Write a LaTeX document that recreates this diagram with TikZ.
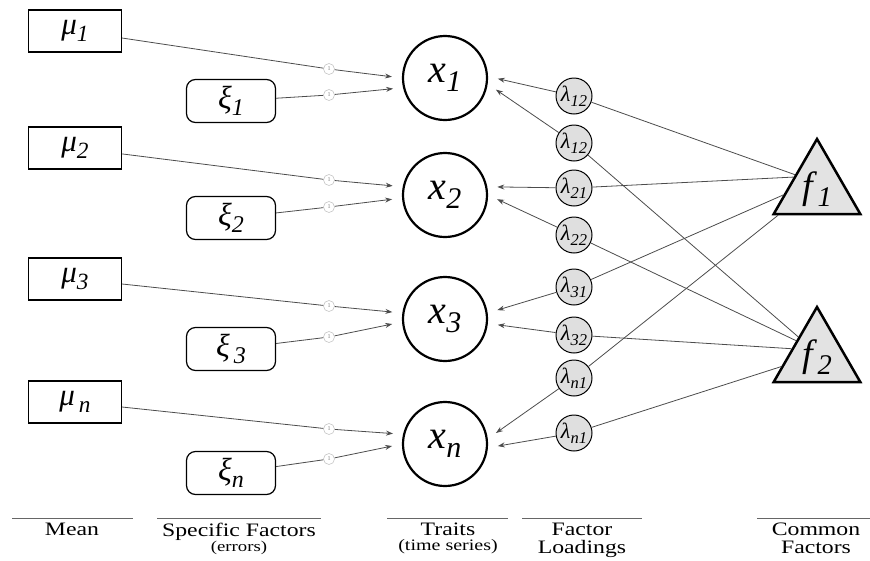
\documentclass[tikz,border=0pt]{standalone}
\usepackage{fontspec}
\setmainfont{Liberation Serif}
\newfontfamily\capfont{Liberation Serif}[FakeStretch=1.25]
\usetikzlibrary{shapes.geometric,arrows.meta}

\newcommand{\varlab}[2]{\itshape #1\raisebox{-.22em}{\scalebox{.75}{#2}}}

\begin{document}
\begin{tikzpicture}[x=1pt,y=-1pt,
  mean/.style={draw, line width=1.2pt, minimum width=93pt, minimum height=42pt, inner sep=0pt, font=\fontsize{31}{31}\selectfont},
  spec/.style={draw, rounded corners=9pt, line width=1.2pt, minimum width=89pt, minimum height=43pt, inner sep=0pt, font=\fontsize{32}{32}\selectfont},
  trait/.style={circle, draw, line width=2.2pt, minimum size=84pt, inner sep=0pt, font=\fontsize{40}{40}\selectfont},
  load/.style={circle, draw, fill=gray!25, line width=1pt, minimum size=36pt, inner sep=0pt, font=\fontsize{22}{22}\selectfont},
  common/.style={regular polygon, regular polygon sides=3, draw, fill=gray!22, line width=2.5pt, minimum size=100pt, inner sep=0pt, font=\fontsize{38}{38}\selectfont},
  one/.style={circle, draw=gray!45, fill=white, line width=0.6pt, minimum size=11pt, inner sep=0pt, font=\fontsize{6}{6}\selectfont, text=gray},
  link/.style={draw=black!70, line width=0.8pt},
  arr/.style={link, -{Stealth[length=7pt,width=5pt]}, shorten >=10pt},
  rule/.style={draw=black!60, line width=0.9pt},
  caption/.style={font=\capfont\fontsize{19}{18}\selectfont, align=center, anchor=north, inner sep=0pt}]
\useasboundingbox (0,0) rectangle (870,560);

% means
\node[mean] (m1) at (75,31) {\varlab{μ}{1}};
\node[mean] (m2) at (75,148) {\varlab{μ}{2}};
\node[mean] (m3) at (75,279) {\varlab{μ}{3}};
\node[mean] (mn) at (75,402) {\varlab{μ}{\,n}};

% specific factors
\node[spec] (e1) at (231,101) {\varlab{ξ}{1}};
\node[spec] (e2) at (231,218) {\varlab{ξ}{2}};
\node[spec] (e3) at (231,349) {\varlab{ξ}{\,3}};
\node[spec] (en) at (231,473) {\varlab{ξ}{n}};

% traits
\node[trait] (x1) at (445,78) {\varlab{x}{1}};
\node[trait] (x2) at (445,195) {\varlab{x}{2}};
\node[trait] (x3) at (445,319) {\varlab{x}{3}};
\node[trait] (xn) at (445,444) {\varlab{x}{n}};

% unit weights
\node[one] (om1) at (329,69) {1};
\node[one] (oe1) at (329,95) {1};
\node[one] (om2) at (329,180) {1};
\node[one] (oe2) at (329,207) {1};
\node[one] (om3) at (329,306) {1};
\node[one] (oe3) at (329,337) {1};
\node[one] (omn) at (329,429) {1};
\node[one] (oen) at (329,459) {1};

\draw[link] (m1) -- (om1); \draw[arr] (om1) -- (x1.180);
\draw[link] (e1) -- (oe1); \draw[arr] (oe1) -- (x1.193);
\draw[link] (m2) -- (om2); \draw[arr] (om2) -- (x2.169);
\draw[link] (e2) -- (oe2); \draw[arr] (oe2) -- (x2.184);
\draw[link] (m3) -- (om3); \draw[arr] (om3) -- (x3.172);
\draw[link] (e3) -- (oe3); \draw[arr] (oe3) -- (x3.184);
\draw[link] (mn) -- (omn); \draw[arr] (omn) -- (xn.167);
\draw[link] (en) -- (oen); \draw[arr] (oen) -- (xn.180);

% factor loadings
\node[load] (l12a) at (574,96) {\varlab{λ}{12}};
\node[load] (l12b) at (574,143) {\varlab{λ}{12}};
\node[load] (l21) at (574,188) {\varlab{λ}{21}};
\node[load] (l22) at (574,235) {\varlab{λ}{22}};
\node[load] (l31) at (574,287) {\varlab{λ}{31}};
\node[load] (l32) at (574,335) {\varlab{λ}{32}};
\node[load] (ln1a) at (574,378) {\varlab{λ}{n1}};
\node[load] (ln1b) at (574,433) {\varlab{λ}{n1}};

% common factors
\node[common] (f1) at (817,189) {\varlab{f}{\,1}};
\node[common] (f2) at (817,357) {\varlab{f}{\,2}};

\draw[link] (f1.147) -- (l12a); \draw[arr] (l12a) -- (x1.2);
\draw[link] (f2.133) -- (l12b); \draw[arr] (l12b) -- (x1.-8);
\draw[link] (f1.153) -- (l21);  \draw[arr] (l21) -- (x2.11);
\draw[link] (f2.142) -- (l22);  \draw[arr] (l22) -- (x2.0);
\draw[link] (f1.190) -- (l31);  \draw[arr] (l31) -- (x3.8);
\draw[link] (f2.162) -- (l32);  \draw[arr] (l32) -- (x3.-6);
\draw[link] (f1.214) -- (ln1a); \draw[arr] (ln1a) -- (xn.7);
\draw[link] (f2.195) -- (ln1b); \draw[arr] (ln1b) -- (xn.-5);

% captions
\draw[rule] (12,518) -- (133,518);
\draw[rule] (157,518) -- (321,518);
\draw[rule] (387,518) -- (508,518);
\draw[rule] (522,518) -- (642,518);
\draw[rule] (757,518) -- (870,518);
\node[caption] (cmean) at (72,523) {Mean};
\node[caption] (cspec) at (239,523) {Specific Factors\\[-3pt]{\fontsize{15}{15}\selectfont (errors)}};
\node[caption] (ctrait) at (448,523) {Traits\\[-3pt]{\fontsize{16}{16}\selectfont (time series)}};
\node[caption] (cload) at (582,523) {Factor\\Loadings};
\node[caption] (ccommon) at (816,523) {Common\\Factors};
\end{tikzpicture}
\end{document}
